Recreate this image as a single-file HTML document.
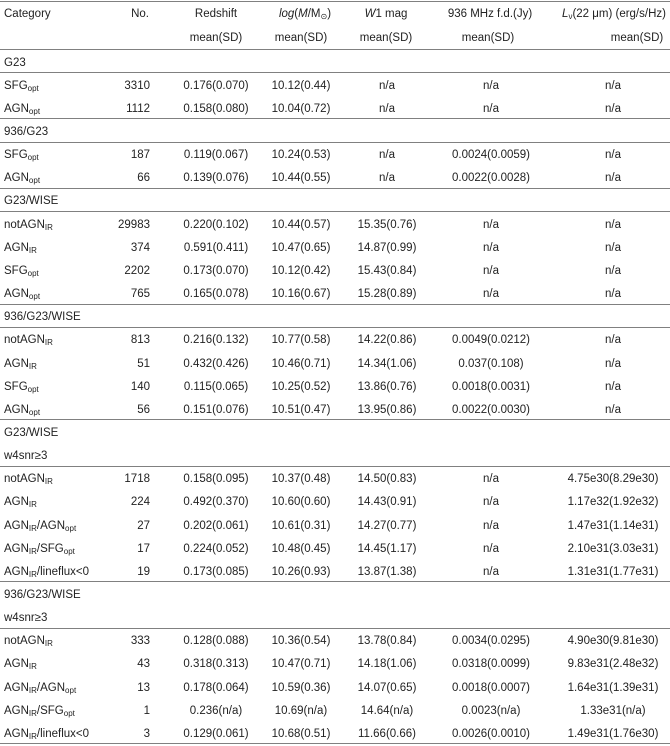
<!DOCTYPE html>
<html><head><meta charset="utf-8">
<style>
html,body{margin:0;padding:0;background:#fff;}
#t{position:relative;width:670px;height:746px;overflow:hidden;font-family:"Liberation Sans","DejaVu Sans",sans-serif;font-size:11.5px;color:#222;}
.c{position:absolute;white-space:nowrap;line-height:14px;}
.hl{position:absolute;left:0;width:670px;height:1px;background:#808080;}
sub{font-size:8px;vertical-align:-2px;line-height:0;}
</style></head><body>
<div id="t"></div>
<script>
const colCenters=[null,null,216,301,387,491,613];
const rows=[
["h","G23"],
["r","SFG<sub>opt</sub>","3310","0.176(0.070)","10.12(0.44)","n/a","n/a","n/a"],
["r","AGN<sub>opt</sub>","1112","0.158(0.080)","10.04(0.72)","n/a","n/a","n/a"],
["h","936/G23"],
["r","SFG<sub>opt</sub>","187","0.119(0.067)","10.24(0.53)","n/a","0.0024(0.0059)","n/a"],
["r","AGN<sub>opt</sub>","66","0.139(0.076)","10.44(0.55)","n/a","0.0022(0.0028)","n/a"],
["h","G23/WISE"],
["r","notAGN<sub>IR</sub>","29983","0.220(0.102)","10.44(0.57)","15.35(0.76)","n/a","n/a"],
["r","AGN<sub>IR</sub>","374","0.591(0.411)","10.47(0.65)","14.87(0.99)","n/a","n/a"],
["r","SFG<sub>opt</sub>","2202","0.173(0.070)","10.12(0.42)","15.43(0.84)","n/a","n/a"],
["r","AGN<sub>opt</sub>","765","0.165(0.078)","10.16(0.67)","15.28(0.89)","n/a","n/a"],
["h","936/G23/WISE"],
["r","notAGN<sub>IR</sub>","813","0.216(0.132)","10.77(0.58)","14.22(0.86)","0.0049(0.0212)","n/a"],
["r","AGN<sub>IR</sub>","51","0.432(0.426)","10.46(0.71)","14.34(1.06)","0.037(0.108)","n/a"],
["r","SFG<sub>opt</sub>","140","0.115(0.065)","10.25(0.52)","13.86(0.76)","0.0018(0.0031)","n/a"],
["r","AGN<sub>opt</sub>","56","0.151(0.076)","10.51(0.47)","13.95(0.86)","0.0022(0.0030)","n/a"],
["t","G23/WISE"],
["h","w4snr&ge;3"],
["r","notAGN<sub>IR</sub>","1718","0.158(0.095)","10.37(0.48)","14.50(0.83)","n/a","4.75e30(8.29e30)"],
["r","AGN<sub>IR</sub>","224","0.492(0.370)","10.60(0.60)","14.43(0.91)","n/a","1.17e32(1.92e32)"],
["r","AGN<sub>IR</sub>/AGN<sub>opt</sub>","27","0.202(0.061)","10.61(0.31)","14.27(0.77)","n/a","1.47e31(1.14e31)"],
["r","AGN<sub>IR</sub>/SFG<sub>opt</sub>","17","0.224(0.052)","10.48(0.45)","14.45(1.17)","n/a","2.10e31(3.03e31)"],
["r","AGN<sub>IR</sub>/lineflux&lt;0","19","0.173(0.085)","10.26(0.93)","13.87(1.38)","n/a","1.31e31(1.77e31)"],
["t","936/G23/WISE"],
["h","w4snr&ge;3"],
["r","notAGN<sub>IR</sub>","333","0.128(0.088)","10.36(0.54)","13.78(0.84)","0.0034(0.0295)","4.90e30(9.81e30)"],
["r","AGN<sub>IR</sub>","43","0.318(0.313)","10.47(0.71)","14.18(1.06)","0.0318(0.0099)","9.83e31(2.48e32)"],
["r","AGN<sub>IR</sub>/AGN<sub>opt</sub>","13","0.178(0.064)","10.59(0.36)","14.07(0.65)","0.0018(0.0007)","1.64e31(1.39e31)"],
["r","AGN<sub>IR</sub>/SFG<sub>opt</sub>","1","0.236(n/a)","10.69(n/a)","14.64(n/a)","0.0023(n/a)","1.33e31(n/a)"],
["r","AGN<sub>IR</sub>/lineflux&lt;0","3","0.129(0.061)","10.68(0.51)","11.66(0.66)","0.0026(0.0010)","1.49e31(1.76e30)"]
];
const t=document.getElementById('t');
function line(y){const d=document.createElement('div');d.className='hl';d.style.top=y+'px';


t.appendChild(d);}
function cell(html,x,y,align,name){const d=document.createElement('div');d.className='c';d.innerHTML=html;


d.style.top=(y-7)+'px';
if(align==='l'){d.style.left=x+'px';}
else if(align==='r'){d.style.right=(670-x)+'px';}
else{d.style.left=x+'px';d.style.transform='translateX(-50%)';}
t.appendChild(d);}
line(1);
cell('Category',4,14,'l','header-category');
cell('No.',149,14,'r','header-no');
cell('Redshift',216,14,'c','header-redshift');
cell('<i>log</i>(<i>M</i>/M<sub>&#8857;</sub>)',305,14,'c','header-mass');
cell('<i>W</i>1 mag',386,14,'c','header-w1');
cell('936 MHz f.d.(Jy)',490,14,'c','header-flux');
cell('<i>L</i><sub>&nu;</sub>(22 &mu;m) (erg/s/Hz)',614,14,'c','header-luminosity');
[216,301,386,488,637].forEach(x=>cell('mean(SD)',x,38,'c','header-mean-sd'));
line(49);
const pitch=23.15;
rows.forEach((r,i)=>{
  const top=49+i*pitch; const cy=top+pitch/2+2;
  if(r[0]!=='r'){cell(r[1],4,cy,'l','section-title');}
  else{
    cell(r[1],4,cy,'l','category-cell');
    cell(r[2],150,cy,'r','count-cell');
    for(let k=3;k<8;k++) cell(r[k],colCenters[k-1],cy,'c','value-cell');
  }
  const next=rows[i+1];
  if(r[0]==='h' || !next || (r[0]==='r' && next[0]!=='r')) line(Math.round(top+pitch));
});
</script>
</body></html>
